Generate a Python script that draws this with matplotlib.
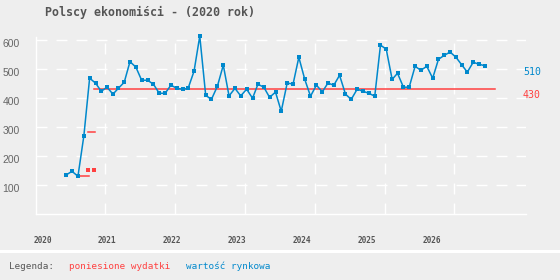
import numpy as np
import pandas as pd
import matplotlib
matplotlib.use("Agg")
import matplotlib.pyplot as plt
import matplotlib.transforms as mtransforms

# ---- data ----
title = "Polscy ekonomiści - (2020 rok)"
legend_label = "Legenda:"
red_name = "poniesione wydatki"
blue_name = "wartość rynkowa"

blue_dates = pd.date_range("2020-06-01", periods=73, freq="MS") + pd.Timedelta(days=9)
blue_values = [134, 146, 129, 269, 467, 450, 422, 436, 412, 432, 453, 524, 505, 460,
               460, 446, 415, 415, 443, 432, 429, 432, 491, 612, 408, 394, 439, 512,
               406, 432, 406, 429, 398, 446, 436, 401, 419, 353, 450, 447, 539, 463,
               405, 443, 420, 450, 443, 477, 412, 394, 429, 422, 415, 405, 581, 567,
               463, 484, 436, 436, 508, 494, 508, 467, 532, 546, 557, 539, 512, 488,
               522, 515, 510]

red_x = [2020.623, 2020.766, np.nan, 2020.752, 2020.848, np.nan, 2020.838, 2026.579]
red_y = [129, 129, np.nan, 280, 280, np.nan, 430, 430]
red_dot_x = [2020.756, 2020.842]
red_dot_y = [150, 150]

y_ticks = [100, 200, 300, 400, 500, 600]
x_tick_pos = [2020.10, 2021.02, 2021.956, 2022.891, 2023.814, 2024.749, 2025.685]
x_tick_labels = ["2020", "2021", "2022", "2023", "2024", "2025", "2026"]
year_grid = [2021, 2022, 2023, 2024, 2025, 2026]

last_blue_label = "510"
red_label = "430"
red_level = 430

# ---- style ----
BG = "#eeeeee"
BLUE = "#0088cc"
RED = "#ff4040"
GRAY = "#555555"

plt.rcParams["lines.scale_dashes"] = False

def to_decimal_year(d):
    d = pd.DatetimeIndex(d)
    return d.year + (d.dayofyear - 1) / 365.0

bx = to_decimal_year(blue_dates)

fig = plt.figure(figsize=(5.6, 2.8), dpi=100, facecolor=BG)
ax = fig.add_axes([35.5 / 560, (280 - 213.7) / 280, 490.7 / 560, 177 / 280])
ax.set_facecolor(BG)
ax.set_xlim(2020.0, 2027.03)
ax.set_ylim(0, 610)

# grid
dash = (0, (7.9, 6.5))
ax.set_yticks(y_ticks)
ax.set_yticklabels([str(v) for v in y_ticks])
ax.set_xticks(x_tick_pos)
ax.set_xticklabels(x_tick_labels)
ax.set_xticks(year_grid, minor=True)
ax.grid(False)
ax.grid(True, axis="y", which="major", color="white", linewidth=1.0, linestyle=dash)
ax.grid(True, axis="x", which="minor", color="white", linewidth=1.0, linestyle=dash)
ax.set_axisbelow(True)

for s in ["top", "right"]:
    ax.spines[s].set_visible(False)
for s in ["left", "bottom"]:
    ax.spines[s].set_color("white")
    ax.spines[s].set_linewidth(1.0)

ax.tick_params(axis="both", which="both", length=0)
ax.tick_params(axis="y", pad=11.5, labelsize=7.5, labelcolor="#666666")
ax.tick_params(axis="x", pad=16, labelsize=5.6, labelcolor=GRAY)
for lab in ax.get_yticklabels():
    lab.set_fontfamily("Liberation Sans")
    lab.set_transform(lab.get_transform() + mtransforms.ScaledTranslation(0, -0.03, fig.dpi_scale_trans))
for lab in ax.get_xticklabels():
    lab.set_fontfamily("DejaVu Sans Mono")
    lab.set_fontweight("bold")

# data
ax.plot(red_x, red_y, color=RED, linewidth=1.1, zorder=3, clip_on=False)
ax.plot(red_dot_x, red_dot_y, linestyle="none", marker="s", markersize=2.2,
        color=RED, markeredgewidth=0, zorder=3)
ax.plot(bx, blue_values, color=BLUE, linewidth=1.1, marker="s", markersize=2.4,
        markeredgewidth=0, zorder=4, clip_on=False)

# right-side value labels
off = mtransforms.ScaledTranslation(0, -0.06, fig.dpi_scale_trans)
trans = mtransforms.blended_transform_factory(ax.transAxes, ax.transData) + off
ax.text(1.0118, blue_values[-1], last_blue_label, transform=trans, ha="center", va="center",
        color=BLUE, fontsize=7.1, fontfamily="DejaVu Sans Mono", clip_on=False)
ax.text(1.0118, red_level, red_label, transform=trans, ha="center", va="center",
        color=RED, fontsize=7.1, fontfamily="DejaVu Sans Mono", clip_on=False)

# title
fig.text(45 / 560, (280 - 12) / 280, title, ha="left", va="center", color=GRAY,
         fontsize=8.4, fontweight="bold", fontfamily="DejaVu Sans Mono")

# legend band
fig.add_artist(plt.Rectangle((0, (280 - 253) / 280), 1, 3 / 280, transform=fig.transFigure,
                             facecolor="white", edgecolor="none"))
ly = (280 - 266.7) / 280
fig.text(9 / 560, ly, legend_label, ha="left", va="center", color=GRAY,
         fontsize=6.7, fontfamily="DejaVu Sans Mono")
fig.text(69.3 / 560, ly, red_name, ha="left", va="center", color=RED,
         fontsize=6.7, fontfamily="DejaVu Sans Mono")
fig.text(186 / 560, ly, blue_name, ha="left", va="center", color=BLUE,
         fontsize=6.7, fontfamily="DejaVu Sans Mono")

fig.savefig("out.png", dpi=100, facecolor=BG)
